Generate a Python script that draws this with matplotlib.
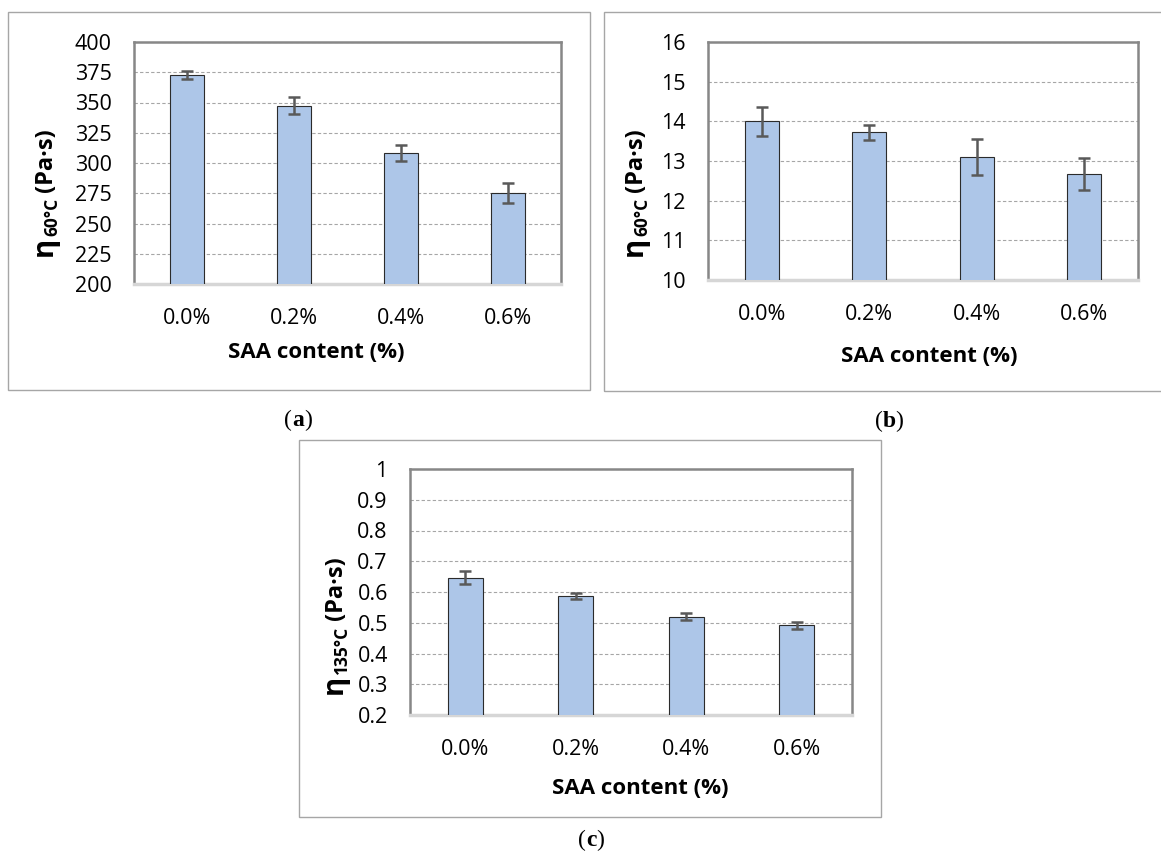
import matplotlib
matplotlib.use('Agg')
import matplotlib.pyplot as plt
import matplotlib.transforms as mtransforms
from matplotlib.patches import Rectangle

plt.rcParams['font.family'] = ['Open Sans', 'DejaVu Sans']

# data
categories = ['0.0%', '0.2%', '0.4%', '0.6%']
visc_60_a = [372.7, 347.5, 308.5, 275.5]
err_60_a = [3.5, 7.0, 6.7, 8.2]
visc_60_b = [14.0, 13.72, 13.1, 12.67]
err_60_b = [0.36, 0.19, 0.45, 0.40]
visc_135 = [0.647, 0.587, 0.520, 0.492]
err_135 = [0.021, 0.010, 0.011, 0.012]

W, H = 1161, 860
fig = plt.figure(figsize=(W / 100, H / 100), dpi=100)
pix = mtransforms.IdentityTransform()


def px_axes(l, t, r, b):
    return fig.add_axes([l / W, 1 - b / H, (r - l) / W, (b - t) / H])


def frame(l, t, r, b):
    fig.patches.append(Rectangle((l / W, 1 - b / H), (r - l) / W, (b - t) / H,
                                 transform=fig.transFigure, fill=False,
                                 edgecolor='#A6A6A6', linewidth=1.0))


def chain_text(x_base, y_center, pieces, rotated, **kw):
    # lays text pieces end to end; each piece is (text, size, weight, offset, gap)
    renderer = fig.canvas.get_renderer()
    texts, lengths = [], []
    for s, size, weight, off, gap in pieces:
        t = fig.text(0, 0, s, rotation=90 if rotated else 0,
                     rotation_mode='anchor', ha='left', va='baseline',
                     fontsize=size, fontweight=weight, transform=pix, **kw)
        bb = t.get_window_extent(renderer)
        texts.append(t)
        lengths.append(bb.height if rotated else bb.width)
    total = sum(lengths) + sum(p[4] for p in pieces)
    pos = (H - y_center if rotated else x_base) - total / 2
    for t, ln, (s, size, weight, off, gap) in zip(texts, lengths, pieces):
        if rotated:
            t.set_position((x_base + off, pos))
        else:
            t.set_position((pos, H - y_center - off))
        pos += ln + gap


def bar_panel(ax, values, errors, ylim, yticks, sub, lab_xy, ylab_xy):
    x = range(len(categories))
    ax.bar(x, values, width=0.32, color='#ADC6E8', edgecolor='#2B2B2B',
           linewidth=0.8, zorder=3)
    ax.errorbar(x, values, yerr=errors, fmt='none', ecolor='#595959',
                elinewidth=1.8, capsize=4.5, capthick=1.8, zorder=4)
    ax.set_xlim(-0.5, len(categories) - 0.5)
    ax.set_ylim(*ylim)
    ax.set_yticks(yticks)
    ax.set_xticks(list(x))
    ax.set_xticklabels(categories)
    ax.tick_params(axis='both', length=0, labelsize=15.5, colors='#000000')
    ax.tick_params(axis='y', pad=16)
    ax.tick_params(axis='x', pad=17)
    ax.yaxis.grid(True, linestyle=(0, (3, 2)), color='#A6A6A6',
                  linewidth=0.8, zorder=0)
    for s in ('top', 'left', 'right'):
        ax.spines[s].set_color('#878787')
        ax.spines[s].set_linewidth(1.8)
    ax.spines['bottom'].set_color('#D6D6D6')
    ax.spines['bottom'].set_linewidth(2.5)
    fig.text(lab_xy[0] / W, 1 - lab_xy[1] / H, 'SAA content (%)',
             ha='center', va='center', fontsize=16, fontweight='bold')
    # eta with its temperature subscript, then the unit
    chain_text(ylab_xy[0], ylab_xy[1],
               [('η', 21, 'bold', 0, 0), (sub, 12.5, 'bold', 5, 6),
                ('(Pa·s)', 17, 'bold', 0, 0)], rotated=True)


def panel_tag(cx, cy, letter):
    chain_text(cx, cy, [('(', 17, 'normal', 0, 0), (letter, 17, 'bold', 0, 0),
                        (')', 17, 'normal', 0, 0)],
               rotated=False, family='Liberation Serif')


frame(8, 12, 590, 390)
frame(604, 12, 1166, 391)
frame(299, 440, 881, 817)

ax_a = px_axes(134, 42, 561, 284)
bar_panel(ax_a, visc_60_a, err_60_a, (200, 400), range(200, 401, 25),
          '60°C', (316, 352), (52, 192))

ax_b = px_axes(708, 42, 1138, 280)
bar_panel(ax_b, visc_60_b, err_60_b, (10, 16), range(10, 17),
          '60°C', (929, 356), (642, 192))

ax_c = px_axes(410, 469, 852, 715)
bar_panel(ax_c, visc_135, err_135, (0.2, 1.0),
          [0.2, 0.3, 0.4, 0.5, 0.6, 0.7, 0.8, 0.9, 1.0],
          '135°C', (640, 788), (342, 625))
ax_c.set_yticklabels(['0.2', '0.3', '0.4', '0.5', '0.6', '0.7', '0.8',
                      '0.9', '1'])

panel_tag(298, 426, 'a')
panel_tag(889, 427, 'b')
panel_tag(591, 846, 'c')

fig.savefig('out.png', dpi=100)
